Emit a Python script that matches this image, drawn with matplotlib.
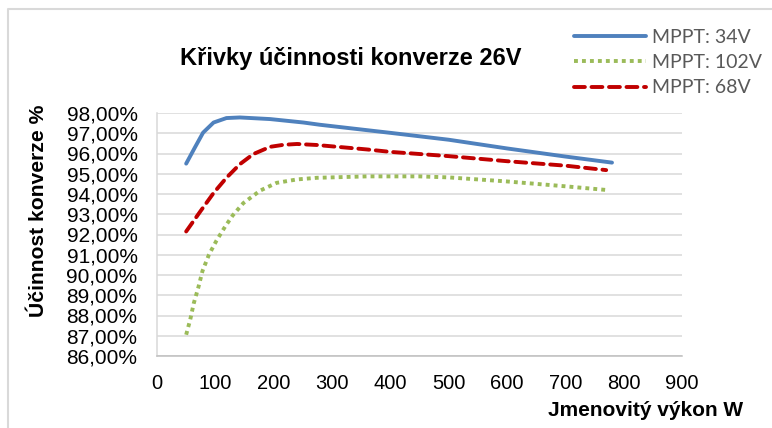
import matplotlib
matplotlib.use("Agg")
import matplotlib.pyplot as plt
from matplotlib.lines import Line2D
from matplotlib.ticker import FuncFormatter, MultipleLocator

# Účinnost konverze [%] podle jmenovitého výkonu [W]
vykon_34 = [50, 65, 79, 97, 119, 142, 194, 251, 279, 400, 500, 600, 700, 780]
ucinnost_34 = [95.5, 96.3, 97.03, 97.53, 97.75, 97.78, 97.7, 97.53, 97.42, 97.02, 96.68, 96.25, 95.85, 95.55]

vykon_102 = [50, 57, 63, 71, 78, 89, 102, 117, 130, 148, 177, 205, 240, 274, 360, 450, 500, 600, 700, 770]
ucinnost_102 = [87.05, 87.8, 88.6, 89.4, 90.2, 91.0, 91.7, 92.4, 92.95, 93.55, 94.17, 94.55, 94.72, 94.8,
                94.87, 94.87, 94.82, 94.62, 94.38, 94.2]

vykon_68 = [50, 74, 97, 119, 142, 165, 194, 217, 240, 274, 360, 400, 500, 600, 700, 770]
ucinnost_68 = [92.15, 93.13, 94.05, 94.8, 95.47, 95.97, 96.33, 96.43, 96.47, 96.42, 96.2, 96.08, 95.87,
               95.62, 95.4, 95.18]

nazvy = ['MPPT: 34V', 'MPPT: 102V', 'MPPT: 68V']

plt.rcParams['font.family'] = ['Liberation Sans', 'DejaVu Sans']

W, H = 772, 428
fig = plt.figure(figsize=(W / 100, H / 100), dpi=100)

# rámeček grafu
fig.add_artist(Line2D([7.5 / W, 7.5 / W, 1], [0, 1 - 9 / H, 1 - 9 / H],
                      transform=fig.transFigure, color='#D9D9D9', lw=1.5))

ax = fig.add_axes([157 / W, 1 - 356 / H, 525 / W, 243 / H])

l1, = ax.plot(vykon_34, ucinnost_34, color='#4F81BD', lw=2.8, solid_capstyle='round', label=nazvy[0])
l2, = ax.plot(vykon_102, ucinnost_102, color='#9BBB59', lw=2.8, linestyle=(0, (1, 1.05)),
              dash_capstyle='butt', label=nazvy[1])
l3, = ax.plot(vykon_68, ucinnost_68, color='#C00000', lw=2.8, linestyle=(0, (2.8, 1.7)),
              dash_capstyle='round', label=nazvy[2])

ax.set_xlim(0, 900)
ax.set_ylim(86, 98)
ax.xaxis.set_major_locator(MultipleLocator(100))
ax.yaxis.set_major_locator(MultipleLocator(1))
ax.yaxis.set_major_formatter(FuncFormatter(lambda v, p: f'{v:.2f}'.replace('.', ',') + '%'))

ax.grid(axis='y', color='#D9D9D9', lw=1.1)
ax.set_axisbelow(True)
for s in ['top', 'right']:
    ax.spines[s].set_visible(False)
ax.spines['left'].set_color('#D9D9D9')
ax.spines['bottom'].set_color('#BFBFBF')
ax.spines['left'].set_linewidth(1.1)
ax.spines['bottom'].set_linewidth(1.1)
ax.tick_params(axis='both', length=0, colors='black')
ax.tick_params(axis='y', pad=14, labelsize=15)
ax.tick_params(axis='x', pad=13, labelsize=14.5)

fig.text(351 / W, 1 - 58 / H, 'Křivky účinnosti konverze 26V', ha='center', va='center',
         fontsize=17, fontweight='bold')
fig.text(39 / W, 1 - 211 / H, 'Účinnost konverze %', ha='center', va='center', rotation=90,
         fontsize=15.2, fontweight='bold')
fig.text(743 / W, 1 - 410 / H, 'Jmenovitý výkon W', ha='right', va='center',
         fontsize=15, fontweight='bold')

leg = fig.legend(handles=[l1, l2, l3], loc='upper left', bbox_to_anchor=(574 / W, 1 - 29 / H),
                 frameon=False, handlelength=3.7, handletextpad=0.3, labelspacing=0.42,
                 borderpad=0, borderaxespad=0, prop={'family': ['Lato', 'DejaVu Sans'], 'size': 14})
for t in leg.get_texts():
    t.set_color('#595959')

fig.savefig('out.png', dpi=100)
